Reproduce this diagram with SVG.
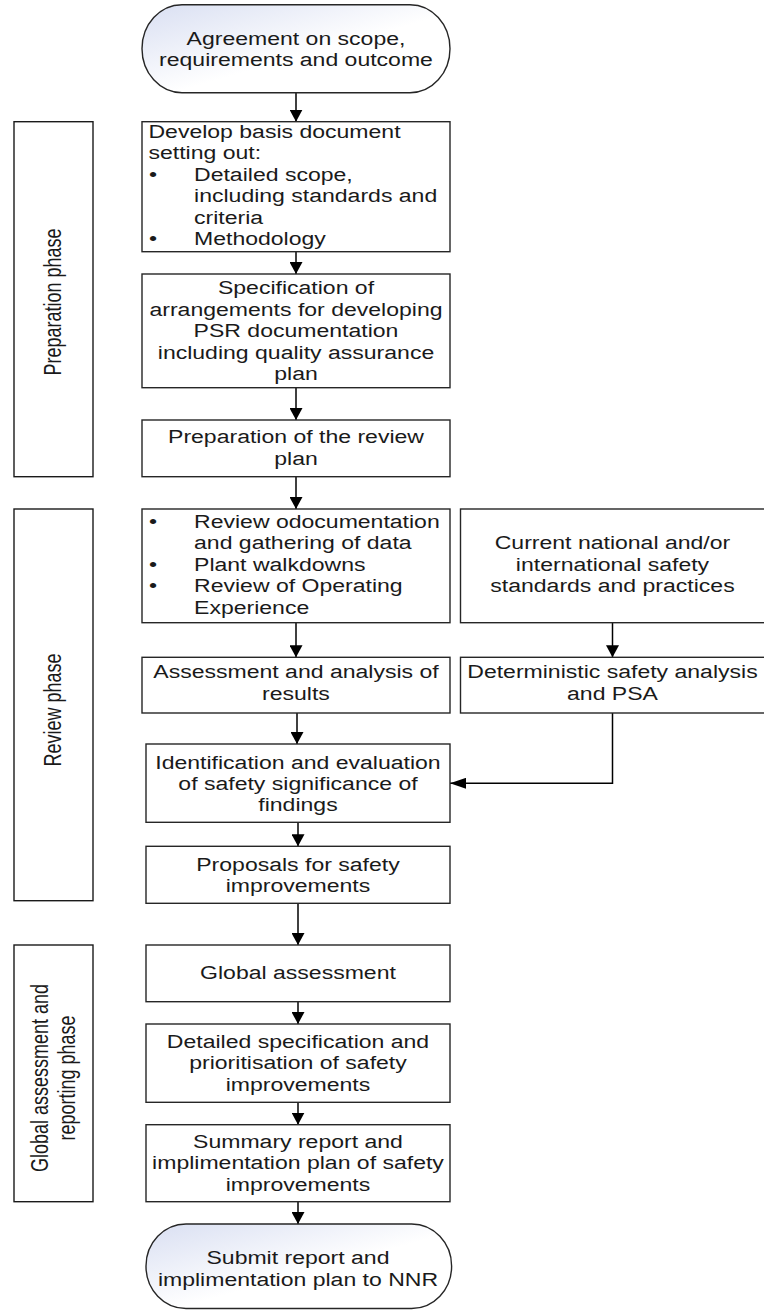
<svg xmlns="http://www.w3.org/2000/svg" width="764" height="1310" viewBox="0 0 764 1310">
<style>
.box{fill:#fff;stroke:#262626;stroke-width:1.4}
.phase{fill:#fff;stroke:#1a1a1a;stroke-width:1.4}
.term{fill:url(#tg);stroke:#262626;stroke-width:1.4}
.t{font-family:"Liberation Sans",Arial,sans-serif;font-size:18px;fill:#1a1a1a}
.c{text-anchor:middle}
.con{fill:none;stroke:#000;stroke-width:1.5}
</style>
<defs>
<linearGradient id="tg" x1="0" y1="0" x2="1" y2="1">
<stop offset="0" stop-color="#d9dff2"/>
<stop offset="0.55" stop-color="#ffffff"/>
<stop offset="1" stop-color="#ffffff"/>
</linearGradient>
<marker id="av" markerWidth="12" markerHeight="13" refX="12" refY="6.5" orient="auto" markerUnits="userSpaceOnUse"><path d="M0,0 L12,6.5 L0,13 z" fill="#000"/></marker>
<marker id="ah" markerWidth="16" markerHeight="11" refX="16" refY="5.5" orient="auto" markerUnits="userSpaceOnUse"><path d="M0,0 L16,5.5 L0,11 z" fill="#000"/></marker>
</defs>

<g id="connectors">
<line class="con" x1="296" y1="92.7" x2="296" y2="121.7" marker-end="url(#av)"/>
<line class="con" x1="296" y1="251.7" x2="296" y2="274" marker-end="url(#av)"/>
<line class="con" x1="296" y1="387.7" x2="296" y2="420" marker-end="url(#av)"/>
<line class="con" x1="296" y1="476.7" x2="296" y2="509" marker-end="url(#av)"/>
<line class="con" x1="296" y1="622.7" x2="296" y2="657.3" marker-end="url(#av)"/>
<line class="con" x1="612.5" y1="622.7" x2="612.5" y2="657.3" marker-end="url(#av)"/>
<line class="con" x1="297" y1="713" x2="297" y2="744" marker-end="url(#av)"/>
<polyline class="con" points="612.5,713 612.5,783.3 450,783.3" marker-end="url(#ah)"/>
<line class="con" x1="298" y1="822.3" x2="298" y2="846.3" marker-end="url(#av)"/>
<line class="con" x1="298" y1="903.3" x2="298" y2="945" marker-end="url(#av)"/>
<line class="con" x1="298" y1="1001.7" x2="298" y2="1024" marker-end="url(#av)"/>
<line class="con" x1="298" y1="1102.3" x2="298" y2="1124.7" marker-end="url(#av)"/>
<line class="con" x1="298" y1="1201.7" x2="298" y2="1224" marker-end="url(#av)"/>
</g>

<g id="phase-preparation">
<rect class="phase" x="14" y="121.7" width="79" height="355"/>
<g transform="scale(1.28,1)"><text class="t c" transform="translate(47.6,302) rotate(-90)">Preparation phase</text></g>
</g>
<g id="phase-review">
<rect class="phase" x="14" y="509" width="79" height="391.7"/>
<g transform="scale(1.28,1)"><text class="t c" transform="translate(47.6,710) rotate(-90)">Review phase</text></g>
</g>
<g id="phase-global">
<rect class="phase" x="14" y="945" width="79" height="256.7"/>
<g transform="scale(1.28,1)">
<text class="t c" transform="translate(37.5,1078) rotate(-90)">Global assessment and</text>
<text class="t c" transform="translate(58.98,1078) rotate(-90)">reporting phase</text>
</g>
</g>

<g id="start">
<rect class="term" x="142" y="4.7" width="308" height="88" rx="40" ry="44"/>
<g transform="scale(1.28,1)" class="t c">
<text x="231.25" y="45">Agreement on scope,</text>
<text x="231.25" y="66">requirements and outcome</text>
</g>
</g>

<g id="basis">
<rect class="box" x="142" y="121.7" width="308" height="130"/>
<g transform="scale(1.28,1)" class="t">
<text x="116" y="138">Develop basis document</text>
<text x="116" y="159.5">setting out:</text>
<text x="116.4" y="181">•</text><text x="151.6" y="181">Detailed scope,</text>
<text x="151.6" y="202.5">including standards and</text>
<text x="151.6" y="224">criteria</text>
<text x="116.4" y="245.5">•</text><text x="151.6" y="245.5">Methodology</text>
</g>
</g>

<g id="spec">
<rect class="box" x="142" y="274" width="308" height="113.7"/>
<g transform="scale(1.28,1)" class="t c">
<text x="231.25" y="294.3">Specification of</text>
<text x="231.25" y="315.7">arrangements for developing</text>
<text x="231.25" y="337.2">PSR documentation</text>
<text x="231.25" y="358.7">including quality assurance</text>
<text x="231.25" y="380.2">plan</text>
</g>
</g>

<g id="prep">
<rect class="box" x="142" y="420" width="308" height="56.7"/>
<g transform="scale(1.28,1)" class="t c">
<text x="231.25" y="443.5">Preparation of the review</text>
<text x="231.25" y="465">plan</text>
</g>
</g>

<g id="review">
<rect class="box" x="142" y="509" width="308" height="113.7"/>
<g transform="scale(1.28,1)" class="t">
<text x="116.4" y="528">•</text><text x="151.6" y="528">Review odocumentation</text>
<text x="151.6" y="549.5">and gathering of data</text>
<text x="116.4" y="571">•</text><text x="151.6" y="571">Plant walkdowns</text>
<text x="116.4" y="592.5">•</text><text x="151.6" y="592.5">Review of Operating</text>
<text x="151.6" y="614">Experience</text>
</g>
</g>

<g id="standards">
<rect class="box" x="460.5" y="509" width="310" height="113.7"/>
<g transform="scale(1.28,1)" class="t c">
<text x="478.5" y="549.5">Current national and/or</text>
<text x="478.5" y="571">international safety</text>
<text x="478.5" y="592.5">standards and practices</text>
</g>
</g>

<g id="assessment">
<rect class="box" x="142" y="657.3" width="308" height="55.7"/>
<g transform="scale(1.28,1)" class="t c">
<text x="231.25" y="678">Assessment and analysis of</text>
<text x="231.25" y="700">results</text>
</g>
</g>

<g id="deterministic">
<rect class="box" x="460.5" y="657.3" width="310" height="55.7"/>
<g transform="scale(1.28,1)" class="t c">
<text x="478.5" y="678">Deterministic safety analysis</text>
<text x="478.5" y="700">and PSA</text>
</g>
</g>

<g id="identification">
<rect class="box" x="146" y="744" width="304" height="78.3"/>
<g transform="scale(1.28,1)" class="t c">
<text x="232.81" y="769">Identification and evaluation</text>
<text x="232.81" y="790">of safety significance of</text>
<text x="232.81" y="811">findings</text>
</g>
</g>

<g id="proposals">
<rect class="box" x="146" y="846.3" width="304" height="57"/>
<g transform="scale(1.28,1)" class="t c">
<text x="232.81" y="870.7">Proposals for safety</text>
<text x="232.81" y="891.7">improvements</text>
</g>
</g>

<g id="global">
<rect class="box" x="146" y="945" width="304" height="56.7"/>
<g transform="scale(1.28,1)" class="t c">
<text x="232.81" y="979.3">Global assessment</text>
</g>
</g>

<g id="detailed">
<rect class="box" x="146" y="1024" width="304" height="78.3"/>
<g transform="scale(1.28,1)" class="t c">
<text x="232.81" y="1048.3">Detailed specification and</text>
<text x="232.81" y="1069.5">prioritisation of safety</text>
<text x="232.81" y="1090.7">improvements</text>
</g>
</g>

<g id="summary">
<rect class="box" x="146" y="1124.7" width="304" height="77"/>
<g transform="scale(1.28,1)" class="t c">
<text x="232.81" y="1148.3">Summary report and</text>
<text x="232.81" y="1169.5">implimentation plan of safety</text>
<text x="232.81" y="1190.7">improvements</text>
</g>
</g>

<g id="end">
<rect class="term" x="146" y="1224" width="305.6" height="84.5" rx="40" ry="42"/>
<g transform="scale(1.28,1)" class="t c">
<text x="232.81" y="1264.3">Submit report and</text>
<text x="232.81" y="1286.5">implimentation plan to NNR</text>
</g>
</g>
</svg>
